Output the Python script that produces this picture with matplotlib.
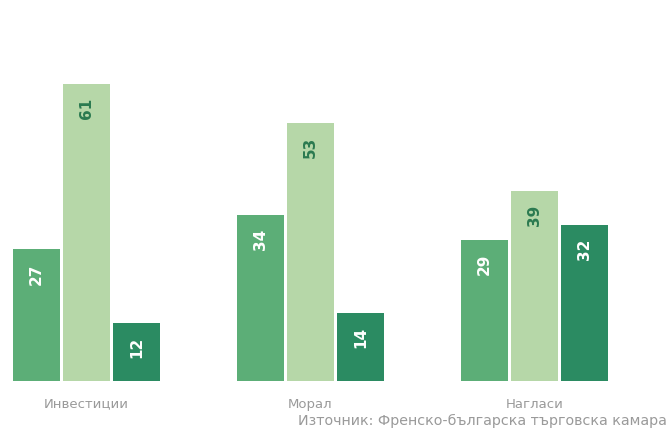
import numpy as np
import matplotlib
matplotlib.use("Agg")
import matplotlib.pyplot as plt

# категории и стойности (%)
categories = ["Инвестиции", "Морал", "Нагласи"]
series_a = [27, 34, 29]   # среден зелен
series_b = [61, 53, 39]   # светъл зелен
series_c = [12, 14, 32]   # тъмен зелен
source = "Източник: Френско-българска търговска камара"

colors = ["#5cae77", "#b6d7a8", "#2b8b62"]
label_colors = ["white", "#2b7a50", "white"]

plt.rcParams['font.family'] = ['DejaVu Sans']

fig = plt.figure(figsize=(6.71, 4.34), dpi=100)
ax = fig.add_axes([0, 53 / 434, 1, 381 / 434])

x = np.arange(len(categories))
step = 50 / 224
width = 47 / 224

for i, (vals, col, lc) in enumerate(zip([series_a, series_b, series_c], colors, label_colors)):
    pos = x + (i - 1) * step
    bars = ax.bar(pos, vals, width=width, color=col)
    for b, v in zip(bars, vals):
        ax.annotate(str(v), (b.get_x() + b.get_width() / 2, v),
                    xytext=(0, -10), textcoords='offset points',
                    ha='center', va='top', rotation=90,
                    fontsize=11, fontweight='bold', color=lc)

ax.set_xlim(-0.386, 2.609)
ax.set_ylim(0, 78.2)
ax.set_xticks(x)
ax.set_xticklabels(categories, fontsize=9.5, color='#9a9a9a')
ax.tick_params(axis='x', length=0, pad=12)
ax.set_yticks([])
for s in ax.spines.values():
    s.set_visible(False)

fig.text(298 / 671, 13 / 434, source, ha='left', va='center',
         fontsize=10.3, color='#9a9a9a')

fig.savefig("out.png", dpi=100)
